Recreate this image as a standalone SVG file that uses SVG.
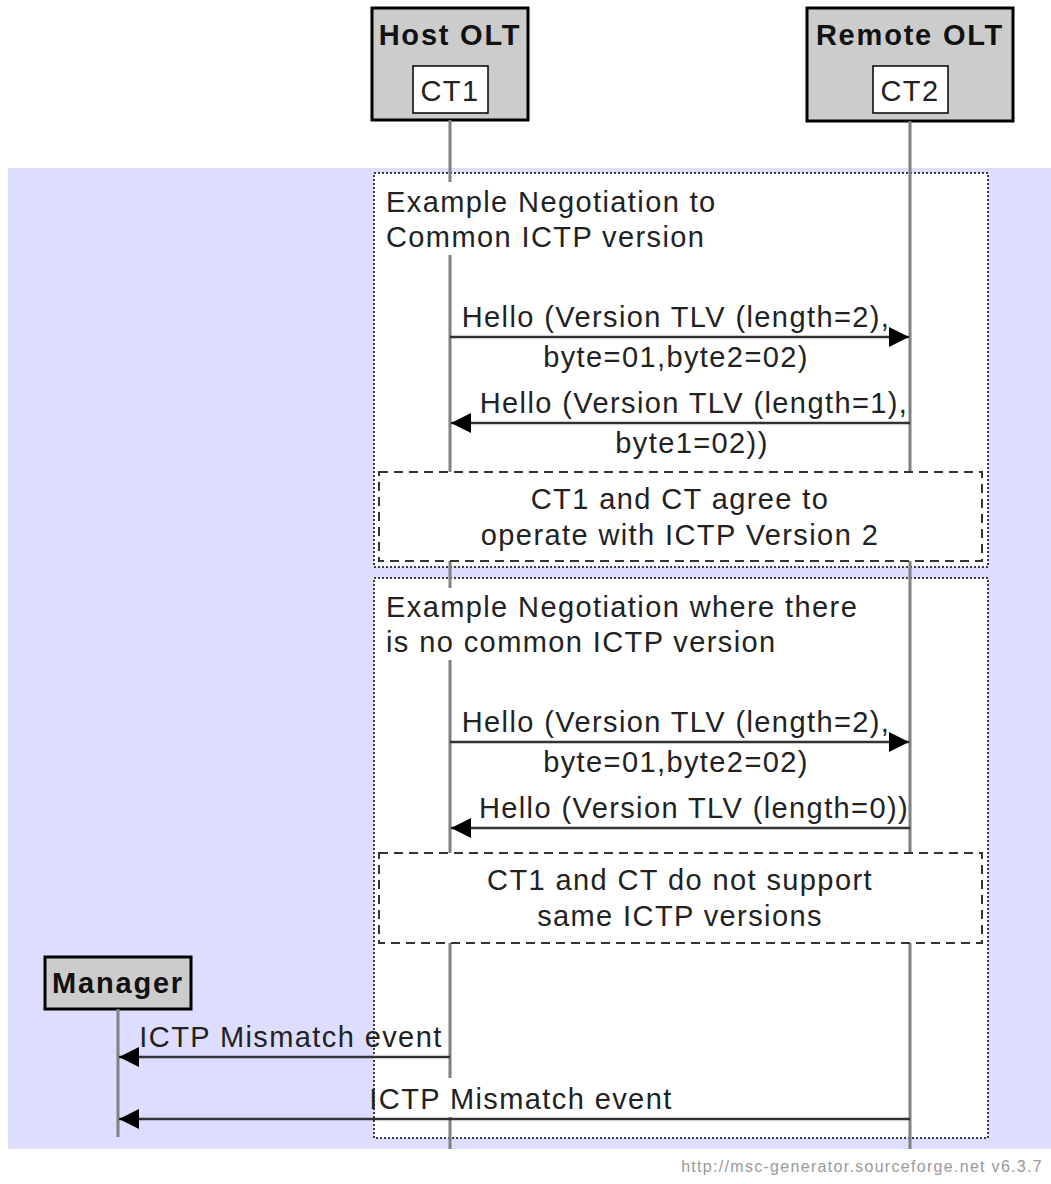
<svg xmlns="http://www.w3.org/2000/svg" width="1051" height="1184" viewBox="0 0 1051 1184">
<defs>
<style>
.t{font-family:"Liberation Sans",Arial,sans-serif;font-size:29px;letter-spacing:1.4px;fill:#222}
.m{text-anchor:middle}
.b{font-family:"Liberation Sans",Arial,sans-serif;font-size:29px;font-weight:bold;letter-spacing:1.8px;fill:#111;text-anchor:middle}
.ent{fill:#cccccc;stroke:#000;stroke-width:3}
.sub{fill:#fff;stroke:#000;stroke-width:1.5}
.life{stroke:#808080;stroke-width:3;fill:none}
.grp{fill:#fff;stroke:#000;stroke-width:1.5;stroke-dasharray:2,2}
.note{fill:#fff;stroke:#333;stroke-width:2;stroke-dasharray:9,6}
.arr{stroke:#333;stroke-width:2.5;fill:none;marker-end:url(#ah)}
</style>
<marker id="ah" markerUnits="userSpaceOnUse" markerWidth="20" markerHeight="20" refX="20" refY="10" orient="auto">
<path d="M0,0 L20,10 L0,20 z" fill="#000"/>
</marker>
</defs>
<rect x="8" y="168" width="1043" height="981" fill="#ddddff"/>
<g id="group1">
<rect class="grp" x="374" y="173" width="614" height="394"/>
</g>
<g id="group2">
<rect class="grp" x="374" y="578" width="614" height="560"/>
</g>
<g id="host">
<rect class="ent" x="372" y="8" width="156" height="112"/>
<text class="b" x="450" y="45">Host OLT</text>
<rect class="sub" x="413" y="66" width="75" height="47"/>
<text class="t m" x="450" y="101">CT1</text>
<path class="life" d="M450,120 V182 M450,255 V472 M450,561 V588 M450,660 V853 M450,943 V1078 M450,1117 V1149"/>
</g>
<g id="remote">
<rect class="ent" x="807" y="8" width="206" height="113"/>
<text class="b" x="910" y="45">Remote OLT</text>
<rect class="sub" x="873" y="66" width="75" height="47"/>
<text class="t m" x="910" y="101">CT2</text>
<path class="life" d="M910,121 V472 M910,561 V853 M910,943 V1149"/>
</g>
<g id="manager">
<rect class="ent" x="45" y="957" width="146" height="52"/>
<text class="b" x="118" y="993">Manager</text>
<path class="life" d="M118,1009 V1137"/>
</g>
<g id="titles">
<text class="t" x="386" y="212">Example Negotiation to</text>
<text class="t" x="386" y="247">Common ICTP version</text>
<text class="t" x="386" y="617">Example Negotiation where there</text>
<text class="t" x="386" y="652">is no common ICTP version</text>
</g>
<g id="note1">
<rect class="note" x="379" y="472" width="603" height="89"/>
<text class="t m" x="680" y="509">CT1 and CT agree to</text>
<text class="t m" x="680" y="545">operate with ICTP Version 2</text>
</g>
<g id="note2">
<rect class="note" x="379" y="853" width="603" height="90"/>
<text class="t m" x="680" y="890">CT1 and CT do not support</text>
<text class="t m" x="680" y="926">same ICTP versions</text>
</g>
<g id="connectors">
<line class="arr" x1="450" y1="337" x2="909" y2="337"/>
<text class="t m" x="676" y="327">Hello (Version TLV (length=2),</text>
<text class="t m" x="676" y="367">byte=01,byte2=02)</text>
<line class="arr" x1="910" y1="423" x2="451" y2="423"/>
<text class="t m" x="694" y="413">Hello (Version TLV (length=1),</text>
<text class="t m" x="692" y="453">byte1=02))</text>
<line class="arr" x1="450" y1="742" x2="909" y2="742"/>
<text class="t m" x="676" y="732">Hello (Version TLV (length=2),</text>
<text class="t m" x="676" y="772">byte=01,byte2=02)</text>
<line class="arr" x1="910" y1="828" x2="451" y2="828"/>
<text class="t m" x="694" y="818">Hello (Version TLV (length=0))</text>
<line class="arr" x1="450" y1="1057" x2="119" y2="1057"/>
<text class="t m" x="291" y="1047">ICTP Mismatch event</text>
<line class="arr" x1="910" y1="1119" x2="119" y2="1119"/>
<text class="t m" x="521" y="1109">ICTP Mismatch event</text>
</g>
<text x="1043" y="1172" font-family="Liberation Sans, Arial, sans-serif" font-size="16" letter-spacing="1.3" fill="#999" text-anchor="end">http://msc-generator.sourceforge.net v6.3.7</text>
</svg>
